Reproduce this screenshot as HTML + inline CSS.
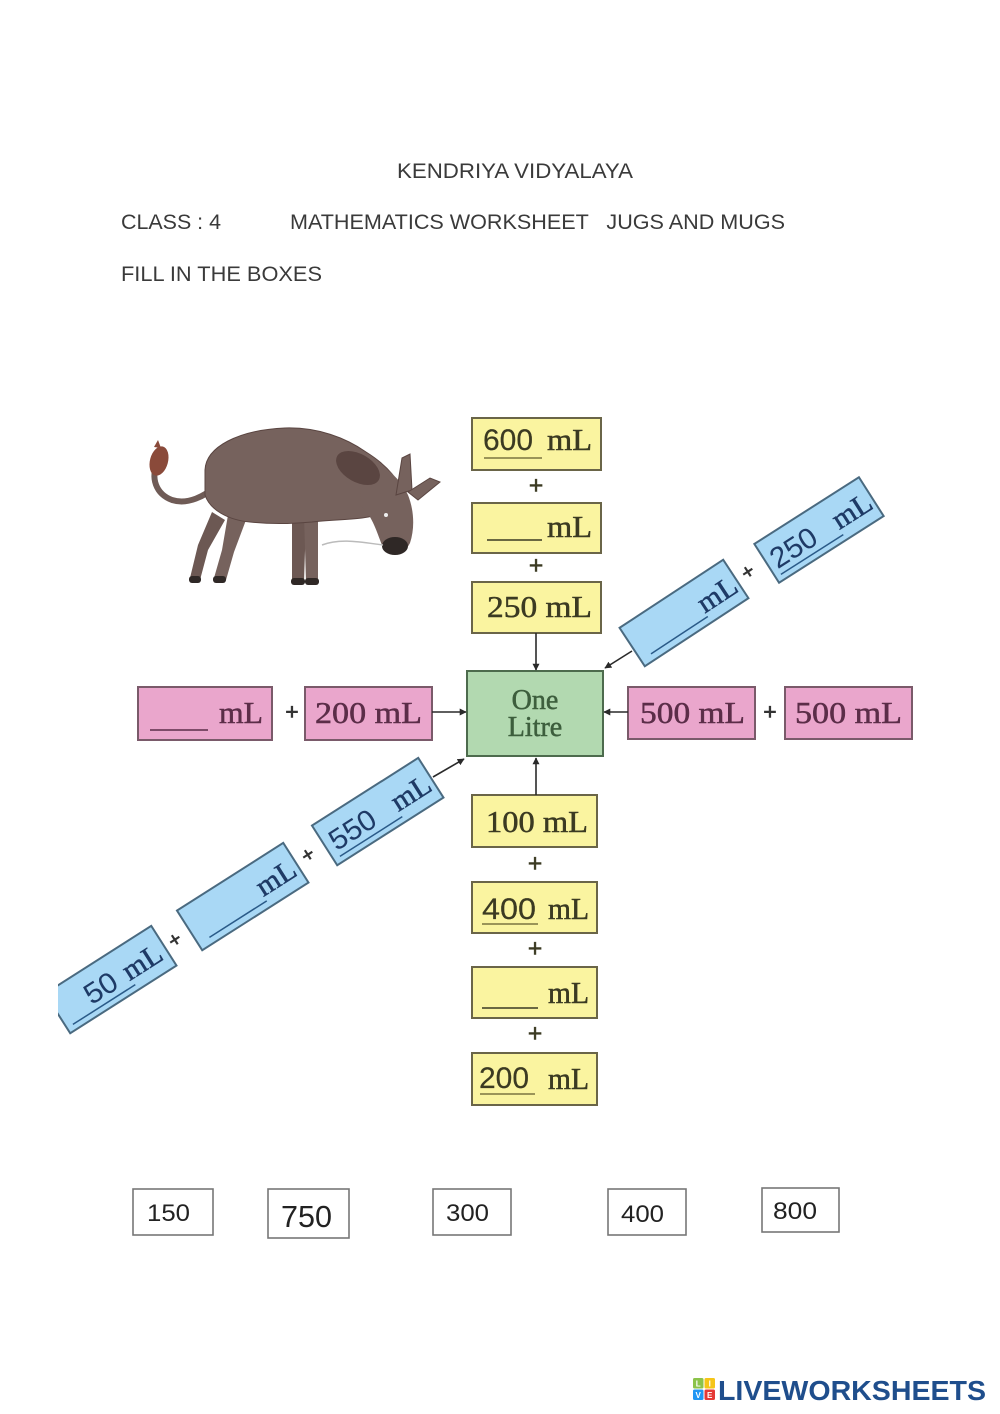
<!DOCTYPE html>
<html><head><meta charset="utf-8"><style>
html,body{margin:0;padding:0;background:#fff;}
svg{display:block;}
.hd{font-family:"Liberation Sans",Arial,sans-serif;fill:#3a3a3a;}
.sf{font-family:"Liberation Serif","DejaVu Serif",serif;}
.ss{font-family:"Liberation Sans",Arial,sans-serif;}
</style></head><body>
<svg width="1000" height="1414" viewBox="0 0 1000 1414" xmlns="http://www.w3.org/2000/svg">
<defs>
<marker id="ah" viewBox="0 0 10 10" refX="9" refY="5" markerWidth="7" markerHeight="7" orient="auto" markerUnits="userSpaceOnUse">
<path d="M0,0 L10,5 L0,10 z" fill="#2a2a2a"/>
</marker>
<clipPath id="clipL"><rect x="58" y="0" width="942" height="1414"/></clipPath>
</defs>
<rect width="1000" height="1414" fill="#fff"/>

<!-- Headings -->
<text class="hd" x="397" y="178" font-size="21" textLength="236" lengthAdjust="spacingAndGlyphs">KENDRIYA VIDYALAYA</text>
<text class="hd" x="121" y="229" font-size="21" textLength="100" lengthAdjust="spacingAndGlyphs">CLASS : 4</text>
<text class="hd" x="290" y="229" font-size="21" textLength="495" lengthAdjust="spacingAndGlyphs" xml:space="preserve">MATHEMATICS WORKSHEET   JUGS AND MUGS</text>
<text class="hd" x="121" y="281" font-size="21" textLength="201" lengthAdjust="spacingAndGlyphs">FILL IN THE BOXES</text>

<!-- Donkey -->
<g>
<path d="M158,462 C150,478 156,494 172,500 C188,505 205,496 216,486" fill="none" stroke="#6f5b56" stroke-width="6" stroke-linecap="round"/>
<ellipse cx="159" cy="461" rx="9" ry="15" fill="#8a4a3a" transform="rotate(15 159 461)"/>
<path d="M154,447 L158,440 L161,448 Z" fill="#8a4a3a"/>
<path d="M212,512 L198,545 L190,578 L200,580 L208,550 L225,520 Z" fill="#6c5853"/>
<path d="M228,515 L222,550 L214,578 L226,580 L234,552 L246,520 Z" fill="#76625d"/>
<path d="M292,515 L292,582 L304,582 L306,520 Z" fill="#6c5853"/>
<path d="M304,515 L306,582 L318,582 L318,518 Z" fill="#76625d"/>
<path d="M205,470 C206,447 238,430 285,428 C318,427 346,438 366,452 C382,462 394,474 400,486 L404,496 C396,508 380,516 362,518 C345,520 328,520 312,522 C290,524 268,524 250,522 C228,520 210,510 205,495 Z" fill="#76625d" stroke="#5a4541" stroke-width="1"/>
<path d="M362,455 C385,465 400,478 408,495 C414,510 415,528 410,543 C404,556 388,556 382,545 C376,530 372,515 360,505 Z" fill="#76625d"/>
<ellipse cx="358" cy="468" rx="24" ry="14" fill="#5a4541" transform="rotate(30 358 468)"/>
<path d="M396,495 L402,458 L410,454 L412,490 Z" fill="#76625d" stroke="#5a4541" stroke-width="1"/>
<path d="M408,492 L430,478 L440,482 L418,500 Z" fill="#76625d" stroke="#5a4541" stroke-width="1"/>
<ellipse cx="395" cy="546" rx="13" ry="9" fill="#2f2826"/>
<circle cx="386" cy="515" r="2" fill="#eee"/>
<rect x="189" y="576" width="12" height="7" rx="3" fill="#2f2826"/>
<rect x="213" y="576" width="13" height="7" rx="3" fill="#2f2826"/>
<rect x="291" y="578" width="14" height="7" rx="3" fill="#2f2826"/>
<rect x="305" y="578" width="14" height="7" rx="3" fill="#2f2826"/>
<path d="M322,545 C340,538 360,542 383,545" fill="none" stroke="#bbb" stroke-width="1.5"/>
</g>

<!-- Top yellow boxes -->
<g stroke="#6a6548" stroke-width="2" fill="#faf4a0">
<rect x="472" y="418" width="129" height="52"/>
<rect x="472" y="503" width="129" height="50"/>
<rect x="472" y="582" width="129" height="51"/>
</g>
<g fill="#3b3a22" stroke="#3b3a22" stroke-width="0.5">
<text class="ss" x="483" y="450" font-size="30" textLength="50" lengthAdjust="spacingAndGlyphs" stroke-width="0.2">600</text>
<line x1="484" y1="458" x2="542" y2="458" stroke="#7a7440" stroke-width="1.5"/>
<text class="sf" x="547" y="450" font-size="31" textLength="45" lengthAdjust="spacingAndGlyphs">mL</text>
<line x1="487" y1="540" x2="542" y2="540" stroke="#3b3a22" stroke-width="1.5"/>
<text class="sf" x="547" y="537" font-size="31" textLength="45" lengthAdjust="spacingAndGlyphs">mL</text>
<text class="sf" x="487" y="617" font-size="31" textLength="105" lengthAdjust="spacingAndGlyphs">250 mL</text>
<text class="sf" x="536" y="494" font-size="26" font-weight="bold" text-anchor="middle">+</text>
<text class="sf" x="536" y="574" font-size="26" font-weight="bold" text-anchor="middle">+</text>
</g>

<!-- Bottom yellow boxes -->
<g stroke="#6a6548" stroke-width="2" fill="#faf4a0">
<rect x="472" y="795" width="125" height="52"/>
<rect x="472" y="882" width="125" height="51"/>
<rect x="472" y="967" width="125" height="51"/>
<rect x="472" y="1053" width="125" height="52"/>
</g>
<g fill="#3b3a22" stroke="#3b3a22" stroke-width="0.5">
<text class="sf" x="486" y="832" font-size="31" textLength="102" lengthAdjust="spacingAndGlyphs">100 mL</text>
<text class="ss" x="482" y="919" font-size="30" textLength="54" lengthAdjust="spacingAndGlyphs" stroke-width="0.2">400</text>
<line x1="482" y1="924" x2="538" y2="924" stroke="#7a7440" stroke-width="1.5"/>
<text class="sf" x="548" y="919" font-size="31" textLength="41" lengthAdjust="spacingAndGlyphs">mL</text>
<line x1="482" y1="1008" x2="538" y2="1008" stroke="#3b3a22" stroke-width="1.5"/>
<text class="sf" x="548" y="1003" font-size="31" textLength="41" lengthAdjust="spacingAndGlyphs">mL</text>
<text class="ss" x="479" y="1088" font-size="30" textLength="50" lengthAdjust="spacingAndGlyphs" stroke-width="0.2">200</text>
<line x1="480" y1="1094" x2="535" y2="1094" stroke="#7a7440" stroke-width="1.5"/>
<text class="sf" x="548" y="1089" font-size="31" textLength="41" lengthAdjust="spacingAndGlyphs">mL</text>
<text class="sf" x="535" y="872" font-size="26" font-weight="bold" text-anchor="middle">+</text>
<text class="sf" x="535" y="957" font-size="26" font-weight="bold" text-anchor="middle">+</text>
<text class="sf" x="535" y="1042" font-size="26" font-weight="bold" text-anchor="middle">+</text>
</g>

<!-- Green box -->
<rect x="467" y="671" width="136" height="85" fill="#b2d9b0" stroke="#4d6b4d" stroke-width="2"/>
<text class="sf" x="535" y="709" font-size="28" fill="#3d5e3d" stroke="#3d5e3d" stroke-width="0.5" text-anchor="middle">One</text>
<text class="sf" x="535" y="736" font-size="28" fill="#3d5e3d" stroke="#3d5e3d" stroke-width="0.5" text-anchor="middle">Litre</text>

<!-- Pink boxes -->
<g stroke="#7a5a6a" stroke-width="2" fill="#eaa6cc">
<rect x="138" y="687" width="134" height="53"/>
<rect x="305" y="687" width="127" height="53"/>
<rect x="628" y="687" width="127" height="52"/>
<rect x="785" y="687" width="127" height="52"/>
</g>
<g fill="#5b2d48" stroke="#5b2d48" stroke-width="0.5">
<line x1="150" y1="730" x2="208" y2="730" stroke="#5b2d48" stroke-width="1.5"/>
<text class="sf" x="219" y="723" font-size="31" textLength="44" lengthAdjust="spacingAndGlyphs">mL</text>
<text class="sf" x="315" y="723" font-size="31" textLength="107" lengthAdjust="spacingAndGlyphs">200 mL</text>
<text class="sf" x="640" y="723" font-size="31" textLength="105" lengthAdjust="spacingAndGlyphs">500 mL</text>
<text class="sf" x="795" y="723" font-size="31" textLength="107" lengthAdjust="spacingAndGlyphs">500 mL</text>
</g>
<g fill="#333" stroke="#333" stroke-width="0.6">
<text class="sf" x="292" y="720" font-size="24" font-weight="bold" text-anchor="middle">+</text>
<text class="sf" x="770" y="720" font-size="24" font-weight="bold" text-anchor="middle">+</text>
</g>

<!-- Arrows -->
<g stroke="#2a2a2a" stroke-width="1.6" fill="none">
<line x1="536" y1="633" x2="536" y2="670" marker-end="url(#ah)"/>
<line x1="536" y1="795" x2="536" y2="758" marker-end="url(#ah)"/>
<line x1="432" y1="712" x2="466" y2="712" marker-end="url(#ah)"/>
<line x1="628" y1="712" x2="604" y2="712" marker-end="url(#ah)"/>
<line x1="632" y1="651" x2="605" y2="668" marker-end="url(#ah)"/>
<line x1="433" y1="777" x2="464" y2="759" marker-end="url(#ah)"/>
</g>

<!-- Blue diagonal boxes upper right -->
<g transform="translate(684,613) rotate(-33.3)">
<rect x="-62" y="-23" width="124" height="46" fill="#a9d8f5" stroke="#4a6a80" stroke-width="2"/>
<line x1="-50" y1="16" x2="18" y2="16" stroke="#2a5a88" stroke-width="1.5"/>
<text class="sf" x="17" y="12" font-size="29" fill="#1e3a66" stroke="#1e3a66" stroke-width="0.5" textLength="42" lengthAdjust="spacingAndGlyphs">mL</text>
</g>
<text class="sf" x="748" y="579" font-size="22" font-weight="bold" fill="#333" stroke="#333" stroke-width="0.6" text-anchor="middle" transform="rotate(-33 748 572)">+</text>
<g transform="translate(819,530) rotate(-32.5)">
<rect x="-62" y="-23" width="124" height="46" fill="#a9d8f5" stroke="#4a6a80" stroke-width="2"/>
<text class="ss" x="-56" y="11" font-size="29" fill="#1e3a66" textLength="50" lengthAdjust="spacingAndGlyphs">250</text>
<line x1="-56" y1="17" x2="18" y2="17" stroke="#2a5a88" stroke-width="1.5"/>
<text class="sf" x="17" y="11" font-size="29" fill="#1e3a66" stroke="#1e3a66" stroke-width="0.5" textLength="42" lengthAdjust="spacingAndGlyphs">mL</text>
</g>

<!-- Blue diagonal boxes lower left -->
<g clip-path="url(#clipL)">
<g transform="translate(378,812) rotate(-32.5)">
<rect x="-63" y="-24" width="126" height="47" fill="#a9d8f5" stroke="#4a6a80" stroke-width="2"/>
<text class="ss" x="-56" y="11" font-size="29" fill="#1e3a66" textLength="50" lengthAdjust="spacingAndGlyphs">550</text>
<line x1="-56" y1="17" x2="18" y2="17" stroke="#2a5a88" stroke-width="1.5"/>
<text class="sf" x="17" y="11" font-size="29" fill="#1e3a66" stroke="#1e3a66" stroke-width="0.5" textLength="42" lengthAdjust="spacingAndGlyphs">mL</text>
</g>
<g transform="translate(243,897) rotate(-32.5)">
<rect x="-63" y="-24" width="126" height="47" fill="#a9d8f5" stroke="#4a6a80" stroke-width="2"/>
<line x1="-50" y1="16" x2="18" y2="16" stroke="#2a5a88" stroke-width="1.5"/>
<text class="sf" x="17" y="11" font-size="29" fill="#1e3a66" stroke="#1e3a66" stroke-width="0.5" textLength="42" lengthAdjust="spacingAndGlyphs">mL</text>
</g>
<g transform="translate(111,980) rotate(-32.5)">
<rect x="-63" y="-24" width="126" height="47" fill="#a9d8f5" stroke="#4a6a80" stroke-width="2"/>
<text class="ss" x="-30" y="11" font-size="29" fill="#1e3a66" textLength="34" lengthAdjust="spacingAndGlyphs">50</text>
<line x1="-56" y1="17" x2="18" y2="17" stroke="#2a5a88" stroke-width="1.5"/>
<text class="sf" x="15" y="11" font-size="29" fill="#1e3a66" stroke="#1e3a66" stroke-width="0.5" textLength="42" lengthAdjust="spacingAndGlyphs">mL</text>
</g>
<text class="sf" x="175" y="947" font-size="22" font-weight="bold" fill="#333" stroke="#333" stroke-width="0.6" text-anchor="middle" transform="rotate(-33 175 940)">+</text>
<text class="sf" x="308" y="862" font-size="22" font-weight="bold" fill="#333" stroke="#333" stroke-width="0.6" text-anchor="middle" transform="rotate(-33 308 855)">+</text>
</g>

<!-- Answer boxes -->
<g fill="#fff" stroke="#777" stroke-width="1.6">
<rect x="133" y="1189" width="80" height="46"/>
<rect x="268" y="1189" width="81" height="49"/>
<rect x="433" y="1189" width="78" height="46"/>
<rect x="608" y="1189" width="78" height="46"/>
<rect x="762" y="1188" width="77" height="44"/>
</g>
<g class="ss" fill="#222">
<text x="147" y="1221" font-size="24" textLength="43" lengthAdjust="spacingAndGlyphs">150</text>
<text x="281" y="1227" font-size="31" textLength="51" lengthAdjust="spacingAndGlyphs">750</text>
<text x="446" y="1221" font-size="24" textLength="43" lengthAdjust="spacingAndGlyphs">300</text>
<text x="621" y="1222" font-size="24" textLength="43" lengthAdjust="spacingAndGlyphs">400</text>
<text x="773" y="1219" font-size="24" textLength="44" lengthAdjust="spacingAndGlyphs">800</text>
</g>

<!-- Logo -->
<g>
<rect x="693" y="1378" width="10.5" height="10.5" rx="1.5" fill="#8bc34a"/>
<rect x="704.5" y="1378" width="10.5" height="10.5" rx="1.5" fill="#f5c518"/>
<rect x="693" y="1389.5" width="10.5" height="10.5" rx="1.5" fill="#2196f3"/>
<rect x="704.5" y="1389.5" width="10.5" height="10.5" rx="1.5" fill="#e53935"/>
<g class="ss" font-size="8" font-weight="bold" fill="#fff" text-anchor="middle">
<text x="698.2" y="1386.5">L</text>
<text x="709.7" y="1386.5">I</text>
<text x="698.2" y="1398">V</text>
<text x="709.7" y="1398">E</text>
</g>
<text class="ss" x="718" y="1400" font-size="28" font-weight="bold" fill="#1f4e8c" textLength="268" lengthAdjust="spacingAndGlyphs">LIVEWORKSHEETS</text>
</g>
</svg>
</body></html>
